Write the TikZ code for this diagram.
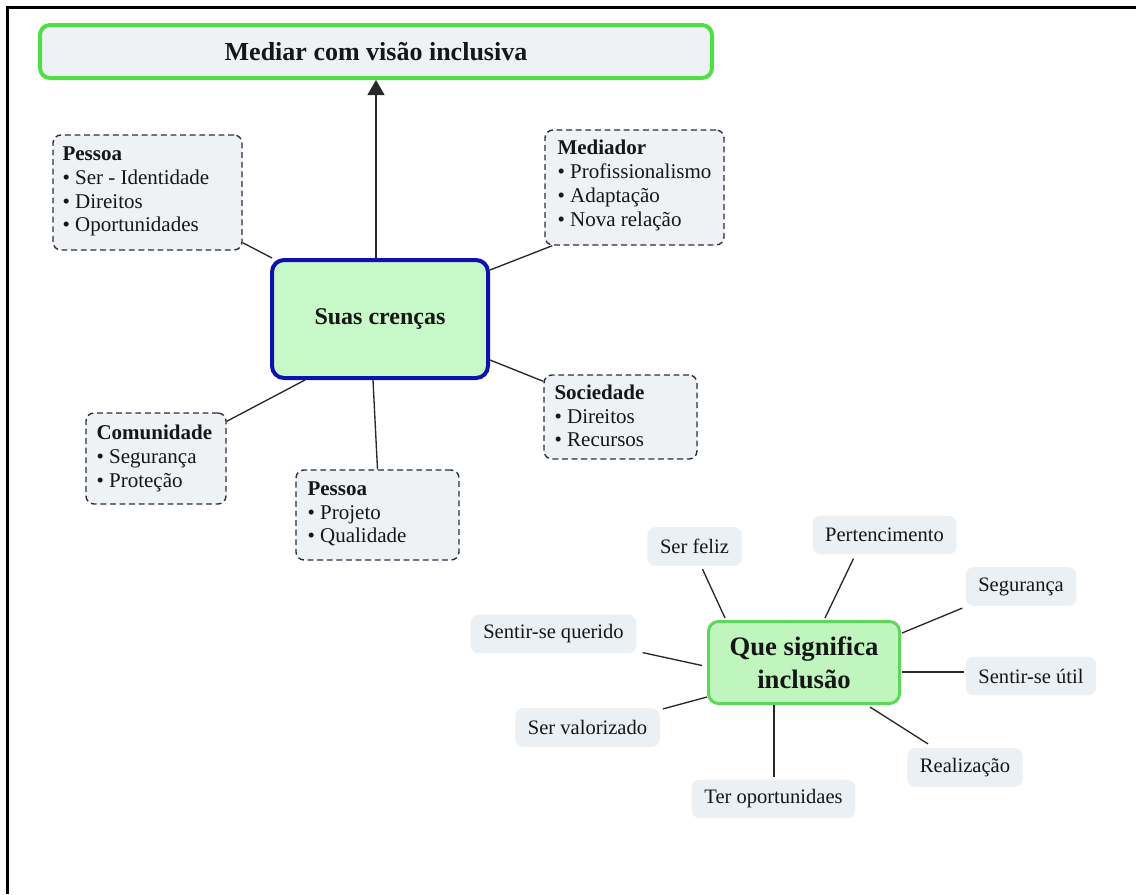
\documentclass[tikz,border=0pt]{standalone}
\usepackage{fontspec}
\setmainfont{Liberation Serif}
\usetikzlibrary{calc,arrows.meta}
\definecolor{titleborder}{RGB}{80,222,70}
\definecolor{boxfill}{RGB}{238,242,245}
\definecolor{suasborder}{RGB}{12,18,172}
\definecolor{suasfill}{RGB}{200,249,200}
\definecolor{queborder}{RGB}{95,215,90}
\definecolor{quefill}{RGB}{192,245,190}
\definecolor{dashcol}{RGB}{45,45,65}
\definecolor{lblfill}{RGB}{234,240,243}
\definecolor{linecol}{RGB}{40,40,40}
\definecolor{txtcol}{RGB}{22,22,22}
\begin{document}
\begin{tikzpicture}[x=0.75pt,y=-0.75pt,
  dbox/.style={draw=dashcol, fill=boxfill, line width=1.05pt, dash pattern=on 4.4pt off 2.8pt, rounded corners=6pt, inner sep=0pt},
  btext/.style={anchor=west, align=left, inner sep=0pt, text=txtcol, font=\fontsize{15.75}{17.8}\selectfont},
  lbl/.style={fill=lblfill, rounded corners=6pt, inner xsep=9.5pt, inner ysep=0pt, minimum height=29pt, text=txtcol, font=\fontsize{15.4}{18}\selectfont},
  conn/.style={draw=linecol, line width=1pt},
]
\useasboundingbox (0,0) rectangle (1136,894);
% frame
\draw[line width=2.25pt] (7.5,894) -- (7.5,7.5) -- (1136,7.5);

% title
\node[draw=titleborder, fill=boxfill, line width=3pt, rounded corners=7.5pt,
      minimum width=504pt, minimum height=39.75pt, inner sep=0pt, text=txtcol,
      font=\bfseries\fontsize{19.5}{22}\selectfont] (title) at (376,51.5) {Mediar com visão inclusiva};

% central
\node[draw=suasborder, fill=suasfill, line width=3pt, rounded corners=9pt,
      minimum width=162pt, minimum height=88.5pt, inner sep=0pt, text=txtcol,
      font=\bfseries\fontsize{18}{21}\selectfont] (suas) at (380,319) {Suas crenças};

% dashed boxes
\node[dbox, minimum width=141.75pt, minimum height=86.25pt] (p1) at (147.5,192.5) {};
\node[btext] (p1t) at ($(p1.west)+(10,-1)$) {\textbf{Pessoa}\\• Ser - Identidade\\• Direitos\\• Oportunidades};

\node[dbox, minimum width=134.25pt, minimum height=86.25pt] (med) at (634.5,187.5) {};
\node[btext] (medt) at ($(med.west)+(13,-2)$) {\textbf{Mediador}\\• Profissionalismo\\• Adaptação\\• Nova relação};

\node[dbox, minimum width=114.75pt, minimum height=63pt] (soc) at (620.5,417) {};
\node[btext] (soct) at ($(soc.west)+(11,-1)$) {\textbf{Sociedade}\\• Direitos\\• Recursos};

\node[dbox, minimum width=105pt, minimum height=68.25pt] (com) at (156,458.5) {};
\node[btext] (comt) at ($(com.west)+(11,0)$) {\textbf{Comunidade}\\• Segurança\\• Proteção};

\node[dbox, minimum width=122.25pt, minimum height=67.5pt] (p2) at (377.5,515) {};
\node[btext] (p2t) at ($(p2.west)+(12,-1)$) {\textbf{Pessoa}\\• Projeto\\• Qualidade};

% connectors top
\draw[conn, -{Triangle[length=11.25pt,width=12.75pt]}] (title.south |- suas.north) -- (title.south);
\draw[conn] ($(p1.south east)+(0,-8)$) -- ($(suas.north west)+(2,0)$);
\draw[conn] ($(med.south west)+(8,0)$) -- ($(suas.north east)+(0,12)$);
\draw[conn] ($(soc.north west)+(0,7)$) -- ($(suas.south east)+(0,-20)$);
\draw[conn] ($(com.north east)+(0,9)$) -- ($(suas.south west)+(35,0)$);
\draw[conn] (p2.north) -- ($(suas.south)+(-7,0)$);

% lower cluster
\node[draw=queborder, fill=quefill, line width=2.25pt, rounded corners=7.5pt,
      minimum width=143.25pt, minimum height=61.5pt, inner sep=0pt, text=txtcol, align=center,
      font=\bfseries\fontsize{20}{24.75}\selectfont] (que) at (804,662.5) {Que significa\\inclusão};

\node[lbl] (feliz) at (694.5,546.5) {Ser feliz};
\node[lbl] (pert) at (884.5,535) {Pertencimento};
\node[lbl] (seg) at (1021,586.5) {Segurança};
\node[lbl] (querido) at (553.5,634) {Sentir-se querido};
\node[lbl] (util) at (1031,676) {Sentir-se útil};
\node[lbl] (valor) at (587.5,727.5) {Ser valorizado};
\node[lbl] (realiz) at (965,767.5) {Realização};
\node[lbl] (ter) at (773.5,799) {Ter oportunidaes};

\draw[conn] ($(feliz.south)+(8,3)$) -- ($(que.north west)+(18,-2)$);
\draw[conn] ($(pert.south)+(-31,4)$) -- ($(que.north)+(21,-2)$);
\draw[conn] ($(seg.south west)+(-3,2)$) -- ($(que.north east)+(1,13)$);
\draw[conn] ($(util.west)+(-2,-4)$) -- ($(que.east)+(1,9.5)$);
\draw[conn] ($(realiz.north)+(-37,-4)$) -- ($(que.south east)+(-31,2)$);
\draw[conn] ($(ter.north)+(0.5,-2)$) -- ($(que.south)+(-30,0)$);
\draw[conn] ($(valor.north east)+(3,1)$) -- ($(que.south west)+(0,-8)$);
\draw[conn] ($(querido.south east)+(6,-1)$) -- ($(que.west)+(-5,3)$);
\end{tikzpicture}
\end{document}
